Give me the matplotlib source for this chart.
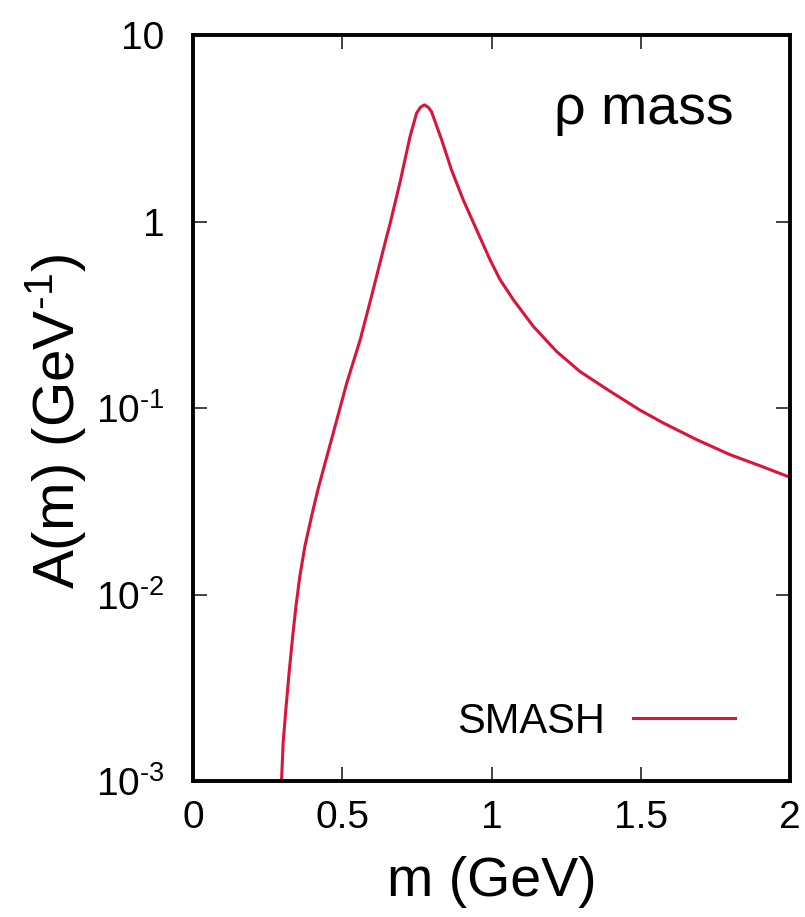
import matplotlib
matplotlib.use("Agg")
import matplotlib.pyplot as plt
from matplotlib.ticker import FixedLocator, FixedFormatter

plt.rcParams['font.family'] = ['Liberation Sans', 'DejaVu Sans']
plt.rcParams['mathtext.fontset'] = 'custom'
plt.rcParams['mathtext.rm'] = 'Liberation Sans'
plt.rcParams['mathtext.it'] = 'Liberation Sans'
plt.rcParams['mathtext.default'] = 'regular'

# data
mass = [0.293, 0.297, 0.302, 0.312, 0.322, 0.334, 0.345, 0.358, 0.375, 0.403,
        0.420, 0.470, 0.515, 0.560, 0.598, 0.646, 0.660, 0.693, 0.727, 0.749,
        0.762, 0.775, 0.788, 0.799, 0.833, 0.866, 0.905, 0.950, 0.995, 1.028,
        1.073, 1.140, 1.218, 1.296, 1.397, 1.497, 1.575, 1.687, 1.798, 1.910,
        2.0]
spectral = [0.0007, 0.00104, 0.00161, 0.00252, 0.00381, 0.00599, 0.00867,
            0.01255, 0.0182, 0.0288, 0.0373, 0.0736, 0.136, 0.232, 0.397,
            0.798, 0.97, 1.61, 2.85, 3.81, 4.10, 4.22, 4.10, 3.88, 2.74, 1.89,
            1.31, 0.903, 0.624, 0.49, 0.381, 0.274, 0.201, 0.157, 0.123,
            0.0975, 0.0832, 0.0677, 0.0563, 0.0483, 0.0425]
series_label = "SMASH"
x_ticks = [0, 0.5, 1, 1.5, 2]
x_ticklabels = ["0", "0.5", "1", "1.5", "2"]
y_ticks = [1e-3, 1e-2, 1e-1, 1, 10]
y_ticklabels = ["10$^{\\text{-}3}$", "10$^{\\text{-}2}$", "10$^{\\text{-}1}$", "1", "10"]

fig = plt.figure(figsize=(8.05, 9.17), dpi=100)
ax = fig.add_axes([193/805, 1-781/917, (790-193)/805, (781-35)/917])

ax.plot(mass, spectral, color='#DC143C', lw=2.2, label=series_label,
        solid_joinstyle='round')
ax.set_yscale('log')
ax.set_xlim(0, 2)
ax.set_ylim(1e-3, 10)

ax.xaxis.set_major_locator(FixedLocator(x_ticks))
ax.xaxis.set_major_formatter(FixedFormatter(x_ticklabels))
ax.yaxis.set_major_locator(FixedLocator(y_ticks))
ax.yaxis.set_major_formatter(FixedFormatter(y_ticklabels))
ax.yaxis.set_minor_locator(FixedLocator([]))

ax.tick_params(which='major', direction='in', length=10, width=1.2,
               top=True, right=True, labelsize=28, color='#222222')
ax.tick_params(axis='x', pad=14)
ax.tick_params(axis='y', pad=20.5)
for s in ax.spines.values():
    s.set_linewidth(2.8)

ax.set_xlabel("m (GeV)", fontsize=40)
ax.set_ylabel("A(m) (GeV$^{\\text{-}1}$)", fontsize=42)
ax.xaxis.set_label_coords(0.5, -0.100)
ax.yaxis.set_label_coords(-0.176, 0.482)

ax.text(0.905, 0.899, "ρ mass", transform=ax.transAxes, fontsize=40,
        ha='right', va='center')

leg = ax.legend(loc='lower right', frameon=False, markerfirst=False,
                fontsize=30, handlelength=2.45, handletextpad=0.67,
                borderaxespad=0, bbox_to_anchor=(0.936, 0.03))

fig.savefig("out.png", dpi=100)
